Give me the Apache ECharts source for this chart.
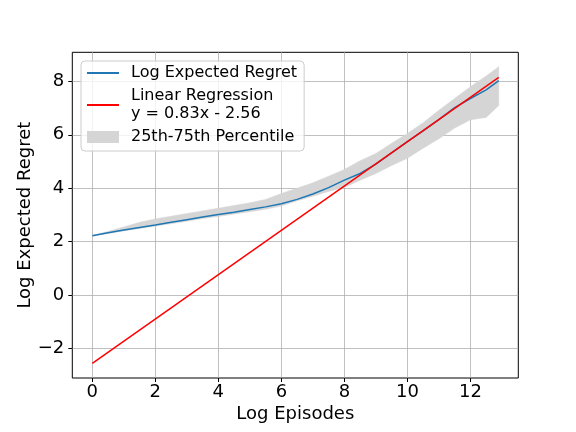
<!DOCTYPE html>
<html>
<head>
<meta charset="utf-8">
<script src="https://cdn.jsdelivr.net/npm/echarts@6/dist/echarts.min.js"></script>
<style>
  html, body { margin: 0; padding: 0; background: #fff; }
  #chart { width: 576px; height: 432px; }
</style>
</head>
<body>
<div id="chart"></div>
<script>
// log episodes (x) and the curves
const logEpisodes = [0, 0.5, 1, 1.5, 2, 2.5, 3, 3.5, 4, 4.5, 5, 5.5, 6, 6.5, 7, 7.5, 8, 8.5, 9, 9.5, 10, 10.5, 11, 11.5, 12, 12.5, 12.9];
const meanRegret = [2.22, 2.33, 2.43, 2.53, 2.62, 2.72, 2.82, 2.92, 3.01, 3.10, 3.20, 3.30, 3.42, 3.58, 3.78, 4.02, 4.30, 4.55, 4.90, 5.32, 5.74, 6.15, 6.57, 7.02, 7.36, 7.68, 8.03];
const upperRegret = [2.24, 2.38, 2.55, 2.72, 2.85, 2.95, 3.05, 3.15, 3.25, 3.35, 3.45, 3.58, 3.80, 4.00, 4.20, 4.45, 4.70, 5.03, 5.30, 5.68, 6.05, 6.45, 6.92, 7.36, 7.80, 8.20, 8.55];
const lowerRegret = [2.21, 2.30, 2.40, 2.49, 2.58, 2.67, 2.76, 2.86, 2.94, 3.03, 3.12, 3.21, 3.33, 3.53, 3.70, 3.88, 4.03, 4.30, 4.55, 4.85, 5.12, 5.50, 5.85, 6.25, 6.56, 6.65, 7.10];
// regression line end points
const regX = [0, 12.9];
const regY = [-2.56, 8.15];
const xTicks = [0, 2, 4, 6, 8, 10, 12];
const yTicks = [-2, 0, 2, 4, 6, 8];

const font = 'DejaVu Sans';
const minus = v => String(v).replace('-', '\u2212');

let chart = echarts.init(document.getElementById('chart'));

let pairs = (xs, ys) => xs.map((x, i) => [x, ys[i]]);

// band polygon: upper edge forward, lower edge back
let bandData = logEpisodes.map((x, i) => [x, lowerRegret[i], upperRegret[i]]);

chart.setOption({
    animation: false,
    grid: {
        left: 72.3, right: 57.7, top: 52.3, bottom: 54,
        show: true, borderColor: '#000', borderWidth: 1
    },
    legend: {
        orient: 'vertical',
        left: 81, top: 61,
        padding: [3, 7, 5, 5],
        itemGap: 5,
        itemWidth: 32,
        itemHeight: 12,
        backgroundColor: 'rgba(255,255,255,0.8)',
        borderColor: '#cccccc',
        borderWidth: 1,
        borderRadius: 4,
        textStyle: { fontFamily: font, fontSize: 16, color: '#000', lineHeight: 18, padding: [0, 0, 0, 7] },
        data: [
            { name: 'Log Expected Regret', itemStyle: { opacity: 0 } },
            { name: 'Linear Regression\ny = 0.83x - 2.56', itemStyle: { opacity: 0 } },
            { name: '25th-75th Percentile', icon: 'rect', itemStyle: { color: '#d5d5d5' } }
        ]
    },
    xAxis: {
        type: 'value',
        min: -0.635, max: 13.52,
        name: 'Log Episodes',
        nameLocation: 'middle',
        nameGap: 27,
        nameMoveOverlap: false,
        nameTextStyle: { fontFamily: font, fontSize: 18, color: '#000' },
        axisLine: { show: false, onZero: false },
        axisTick: { show: true, length: 4, customValues: xTicks, lineStyle: { color: '#000' } },
        axisLabel: { customValues: xTicks, fontFamily: font, fontSize: 18, color: '#000', margin: 5, formatter: minus },
        splitLine: { show: true, lineStyle: { color: '#b0b0b0', width: 0.8 } }
    },
    yAxis: {
        type: 'value',
        min: -3.11, max: 9.09,
        name: 'Log Expected Regret',
        nameLocation: 'middle',
        nameGap: 38,
        nameMoveOverlap: false,
        nameTextStyle: { fontFamily: font, fontSize: 18, color: '#000' },
        axisLine: { show: false, onZero: false },
        axisTick: { show: true, length: 4, customValues: yTicks, lineStyle: { color: '#000' } },
        axisLabel: { customValues: yTicks, fontFamily: font, fontSize: 18, color: '#000', margin: 8, formatter: minus },
        splitLine: { show: true, lineStyle: { color: '#b0b0b0', width: 0.8 } }
    },
    series: [
        {
            name: '25th-75th Percentile',
            type: 'custom',
            color: '#d5d5d5',
            data: bandData,
            encode: { x: 0, y: [1, 2] },
            renderItem: function (params, api) {
                // draw the whole band once, on the first item
                if (params.dataIndex !== 0) return;
                let top = bandData.map(d => api.coord([d[0], d[2]]));
                let bottom = bandData.map(d => api.coord([d[0], d[1]])).reverse();
                return {
                    type: 'polygon',
                    shape: { points: top.concat(bottom) },
                    style: { fill: '#d5d5d5', stroke: '#d5d5d5', lineWidth: 0.5 }
                };
            },
            z: 1
        },
        {
            name: 'Log Expected Regret',
            type: 'line',
            symbol: 'none',
            color: '#1f77b4',
            lineStyle: { width: 1.5 },
            data: pairs(logEpisodes, meanRegret),
            z: 3
        },
        {
            name: 'Linear Regression\ny = 0.83x - 2.56',
            type: 'line',
            symbol: 'none',
            color: '#ff0000',
            lineStyle: { width: 1.5 },
            data: pairs(regX, regY),
            z: 4
        }
    ]
});
</script>
</body>
</html>
